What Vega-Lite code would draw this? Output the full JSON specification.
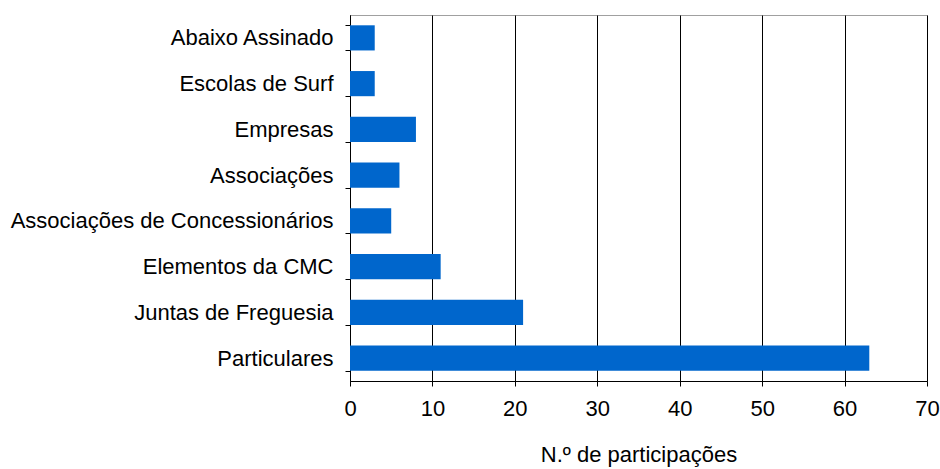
{
  "$schema": "https://vega.github.io/schema/vega-lite/v6.json",
  "autosize": {"type": "none"},
  "width": 577,
  "height": 366,
  "padding": {"left": 350, "top": 15, "right": 13, "bottom": 88},
  "background": "white",
  "config": {
    "view": {"stroke": "#a0a0a0", "strokeWidth": 1},
    "font": "Liberation Sans"
  },
  "data": {
    "values": [
      {"categoria": "Abaixo Assinado", "n": 3},
      {"categoria": "Escolas de Surf", "n": 3},
      {"categoria": "Empresas", "n": 8},
      {"categoria": "Associações", "n": 6},
      {"categoria": "Associações de Concessionários", "n": 5},
      {"categoria": "Elementos da CMC", "n": 11},
      {"categoria": "Juntas de Freguesia", "n": 21},
      {"categoria": "Particulares", "n": 63}
    ]
  },
  "mark": {"type": "bar", "color": "#0066CC"},
  "encoding": {
    "y": {
      "field": "categoria",
      "type": "nominal",
      "sort": null,
      "scale": {"paddingInner": 0.45, "paddingOuter": 0.225},
      "axis": {
        "title": null,
        "labelFontSize": 22,
        "labelColor": "black",
        "labelPadding": 12,
        "tickBand": "extent",
        "tickColor": "black",
        "tickSize": 5,
        "domainColor": "black",
        "labelLimit": 400
      }
    },
    "x": {
      "field": "n",
      "type": "quantitative",
      "scale": {"domain": [0, 70], "nice": false},
      "axis": {
        "title": "N.º de participações",
        "titleFontSize": 22,
        "titleFontWeight": "normal",
        "titleColor": "black",
        "titlePadding": 25,
        "values": [0, 10, 20, 30, 40, 50, 60, 70],
        "labelFontSize": 22,
        "labelColor": "black",
        "labelPadding": 12,
        "labelFlush": false,
        "labelOverlap": false,
        "tickColor": "black",
        "tickSize": 5,
        "domainColor": "black",
        "grid": true,
        "gridColor": "black",
        "gridOpacity": 1
      }
    }
  }
}
